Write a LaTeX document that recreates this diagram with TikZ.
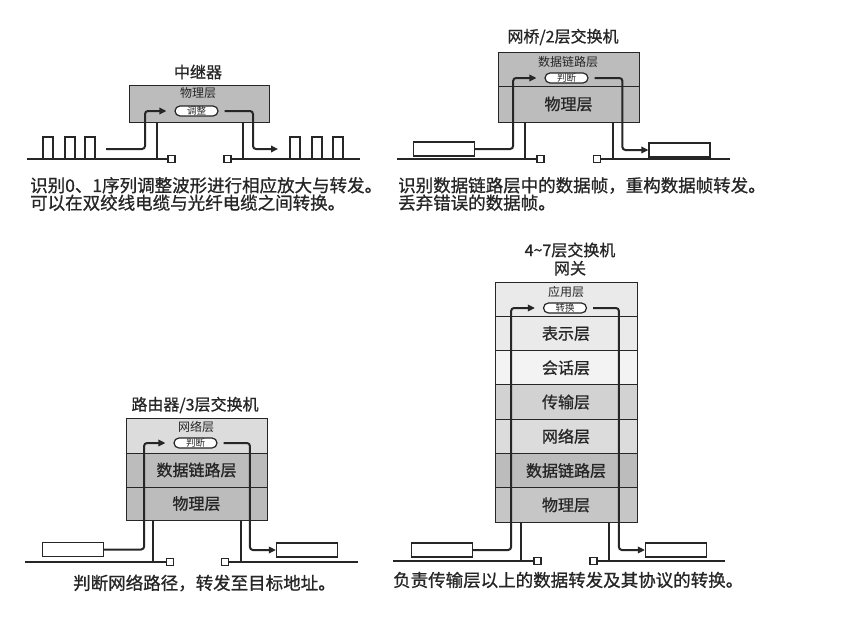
\documentclass[tikz,border=0pt]{standalone}
\usepackage{fontspec}
\setmainfont[AutoFakeBold=0.9]{Noto Sans CJK SC}
\usepackage{tikz}
\usetikzlibrary{positioning,arrows.meta}
\definecolor{Ink}{HTML}{262626}
\definecolor{LayerDark}{HTML}{BCBCBC}
\definecolor{LayerMid}{HTML}{C6C6C6}
\definecolor{LayerSoft}{HTML}{D2D2D2}
\definecolor{LayerLight}{HTML}{DCDCDC}
\definecolor{LayerPale}{HTML}{EAEAEA}
\definecolor{LayerWhite}{HTML}{F3F3F3}

\tikzset{
	layer/.style={draw=Ink, line width=1pt, minimum width=141pt, inner sep=0pt, outer sep=0pt, text=Ink, font=\bfseries\fontsize{16}{16}\selectfont},
	sublabel/.style={inner sep=0pt, text=Ink, font=\fontsize{12}{12}\selectfont},
	pill/.style={draw=Ink, fill=white, rounded corners=5pt, minimum width=43pt, minimum height=10pt, inner sep=0pt, line width=1.2pt, text=Ink, font=\fontsize{9.5}{9.5}\selectfont},
	title/.style={inner sep=0pt, text=Ink, font=\bfseries\fontsize{16}{17}\selectfont},
	caption/.style={anchor=west, align=left, inner sep=0pt, text=Ink, font=\bfseries\fontsize{17.5}{17.5}\selectfont},
	signal/.style={draw=Ink, line width=2pt, rounded corners=3pt, -{Triangle[length=7pt,width=6.5pt]}},
	ground/.style={draw=Ink, line width=2.2pt},
	leg/.style={draw=Ink, line width=2pt},
	port/.style={draw=Ink, fill=white, line width=1.3pt, minimum size=7pt, inner sep=0pt},
	frame/.style={draw=Ink, fill=white, line width=1.2pt, minimum width=61pt, minimum height=14pt, inner sep=0pt},
	pulse/.style={draw=Ink, line width=1.3pt}
}

\begin{document}
\begin{tikzpicture}[x=1pt,y=-1pt]
	
	\fill[white] (0,0) rectangle (850,629);
	\useasboundingbox (0,0) rectangle (850,629);
	
	% ---------------------------------------------------------
	% REPEATER
	% ---------------------------------------------------------
	
	\node[title] (rtitle) at (198,72) {中继器};
	\node[layer, fill=LayerDark, minimum width=140pt, minimum height=37pt] (rbox) at (199,103.5) {};
	\node[sublabel] (rlabel) at (198,93) {物理层};
	\node[pill] (roval) at (196.5,111) {调整};
	
	\coordinate (rgndL) at (27,159);
	\coordinate (rgndR) at (360,159);
	\coordinate (rlegL) at (157,159);
	\coordinate (rlegR) at (243,159);
	\coordinate (rin) at (106,149);
	\coordinate (rout) at (278,149);
	\node[port] (rportL) at (171.5,159) {};
	\node[port] (rportR) at (227.5,159) {};
	
	\draw[ground] (rgndL) -- (rportL.west);
	\draw[ground] (rportR.east) -- (rgndR);
	\draw[leg] (rlegL |- rbox.south) -- (rlegL);
	\draw[leg] (rlegR |- rbox.south) -- (rlegR);
	
	\foreach \px in {43,65,85}
	\draw[pulse] (\px,159) |- ({\px+10},137) -- ({\px+10},159);
	\foreach \px in {290,312,333}
	\draw[pulse] (\px,159) |- ({\px+10},137) -- ({\px+10},159);
	
	\draw[signal] (rin) -- ++(39,0) |- ([xshift=-8pt]roval.west);
	\draw[signal] ([xshift=6pt]roval.east) -| ([xshift=-25pt]rout) -- (rout);
	
	\node[caption] (rcaption) at (30,194) {识别0、1序列调整波形进行相应放大与转发。\\可以在双绞线电缆与光纤电缆之间转换。};
	
	% ---------------------------------------------------------
	% BRIDGE / L2 SWITCH
	% ---------------------------------------------------------
	
	\node[title] (btitle) at (563,37) {网桥/2层交换机};
	\node[layer, fill=LayerDark, minimum height=34pt] (blink) at (568.5,69) {};
	\node[layer, fill=LayerDark, minimum height=36pt, below=0pt of blink] (bphys) {物理层};
	\node[sublabel] (blabel) at (568,62) {数据链路层};
	\node[pill] (boval) at (566.5,78) {判断};
	
	\coordinate (bgndL) at (397,159);
	\coordinate (bgndR) at (730,159);
	\coordinate (blegL) at (525,159);
	\coordinate (blegR) at (613,159);
	\node[port] (bportL) at (540.5,159) {};
	\node[port] (bportR) at (597,159) {};
	\node[frame] (bframeL) at (444,149) {};
	\node[frame] (bframeR) at (679.5,150) {};
	
	\draw[ground] (bgndL) -- (bportL.west);
	\draw[ground] (bportR.east) -- (bgndR);
	\draw[leg] (blegL |- bphys.south) -- (blegL);
	\draw[leg] (blegR |- bphys.south) -- (blegR);
	
	\draw[signal] (bframeL.east) -- ++(38,0) |- ([xshift=-8pt]boval.west);
	\draw[signal] ([xshift=6pt]boval.east) -| ([xshift=-26pt]bframeR.west) -- (bframeR.west);
	
	\node[caption] (bcaption) at (398,194) {识别数据链路层中的数据帧，重构数据帧转发。\\丢弃错误的数据帧。};
	
	% ---------------------------------------------------------
	% ROUTER / L3 SWITCH
	% ---------------------------------------------------------
	
	\node[title] (ttitle) at (195,405) {路由器/3层交换机};
	\node[layer, fill=LayerLight, minimum height=35pt] (tnet) at (196.5,435.5) {};
	\node[layer, fill=LayerDark, minimum height=34pt, below=0pt of tnet] (tlink) {数据链路层};
	\node[layer, fill=LayerDark, minimum height=33pt, below=0pt of tlink] (tphys) {物理层};
	\node[sublabel] (tlabel) at (196,427) {网络层};
	\node[pill] (toval) at (195.5,443) {判断};
	
	\coordinate (tgndL) at (25,562);
	\coordinate (tgndR) at (358,562);
	\coordinate (tlegL) at (153,562);
	\coordinate (tlegR) at (241,562);
	\node[port] (tportL) at (170,562) {};
	\node[port] (tportR) at (225,562) {};
	\node[frame] (tframeL) at (73,549.5) {};
	\node[frame] (tframeR) at (307,550) {};
	
	\draw[ground] (tgndL) -- (tportL.west);
	\draw[ground] (tportR.east) -- (tgndR);
	\draw[leg] (tlegL |- tphys.south) -- (tlegL);
	\draw[leg] (tlegR |- tphys.south) -- (tlegR);
	
	\draw[signal] (tframeL.east) -- ++(40,0) |- ([xshift=-8pt]toval.west);
	\draw[signal] ([xshift=6pt]toval.east) -| ([xshift=-26pt]tframeR.west) -- (tframeR.west);
	
	\node[caption] (tcaption) at (73,583) {判断网络路径，转发至目标地址。};
	
	% ---------------------------------------------------------
	% L4-7 SWITCH / GATEWAY
	% ---------------------------------------------------------
	
	\node[title] (gtitle) at (570,250) {4\textasciitilde 7层交换机};
	\node[title, below=3pt of gtitle] (gsubtitle) {网关};
	\node[layer, fill=LayerPale, minimum width=142pt, minimum height=34.3pt] (gapp) at (566,299.15) {};
	\node[layer, fill=LayerPale, minimum width=142pt, minimum height=34.3pt, below=0pt of gapp] (gpres) {表示层};
	\node[layer, fill=LayerWhite, minimum width=142pt, minimum height=34.3pt, below=0pt of gpres] (gsess) {会话层};
	\node[layer, fill=LayerSoft, minimum width=142pt, minimum height=34.3pt, below=0pt of gsess] (gtrans) {传输层};
	\node[layer, fill=LayerLight, minimum width=142pt, minimum height=34.3pt, below=0pt of gtrans] (gnet) {网络层};
	\node[layer, fill=LayerDark, minimum width=142pt, minimum height=34.3pt, below=0pt of gnet] (glink) {数据链路层};
	\node[layer, fill=LayerMid, minimum width=142pt, minimum height=34.3pt, below=0pt of glink] (gphys) {物理层};
	\node[sublabel] (glabel) at (566,292) {应用层};
	\node[pill] (goval) at (565,308) {转换};
	
	\coordinate (ggndL) at (393,561);
	\coordinate (ggndR) at (725,561);
	\coordinate (glegL) at (521,561);
	\coordinate (glegR) at (609,561);
	\node[port] (gportL) at (537.5,561) {};
	\node[port] (gportR) at (593.5,561) {};
	\node[frame] (gframeL) at (442,550) {};
	\node[frame] (gframeR) at (676,550) {};
	
	\draw[ground] (ggndL) -- (gportL.west);
	\draw[ground] (gportR.east) -- (ggndR);
	\draw[leg] (glegL |- gphys.south) -- (glegL);
	\draw[leg] (glegR |- gphys.south) -- (glegR);
	
	\draw[signal] (gframeL.east) -- ++(38,0) |- ([xshift=-8pt]goval.west);
	\draw[signal] ([xshift=6pt]goval.east) -| ([xshift=-26pt]gframeR.west) -- (gframeR.west);
	
	\node[caption] (gcaption) at (393,580) {负责传输层以上的数据转发及其协议的转换。};
	
\end{tikzpicture}
\end{document}
